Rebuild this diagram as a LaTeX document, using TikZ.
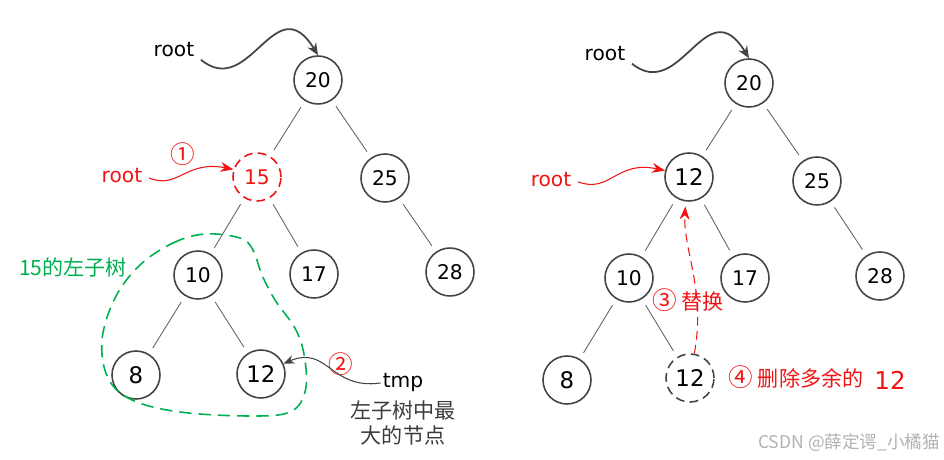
\documentclass[tikz,border=0pt]{standalone}
\usepackage{fontspec}
\setmainfont{DejaVu Sans}
\newfontfamily\cjk{Noto Sans CJK SC}
\usetikzlibrary{arrows.meta}
\definecolor{nodegray}{RGB}{68,68,68}
\definecolor{edgegray}{RGB}{100,100,100}
\definecolor{myred}{RGB}{240,20,20}
\definecolor{mygreen}{RGB}{0,176,80}
\definecolor{txtgray}{RGB}{60,60,60}

\begin{document}
\begin{tikzpicture}[
  x=0.02cm,y=-0.02cm,
  >=Stealth,
  nd/.style={circle,draw=nodegray,line width=0.9pt,minimum size=0.96cm,inner sep=0pt,font=\fontsize{11.5}{12}\selectfont},
  big/.style={font=\fontsize{13}{14}\selectfont},
  edge/.style={draw=edgegray,line width=0.5pt,shorten <=0.14cm,shorten >=0.14cm},
  lab/.style={font=\fontsize{11.5}{12}\selectfont,inner sep=1pt},
  zh/.style={font=\cjk\fontsize{12}{14}\selectfont,inner sep=1pt},
  num/.style={font=\cjk\fontsize{14}{14}\selectfont,inner sep=1pt,text=myred},
  ptr/.style={draw=nodegray,line width=1pt,shorten <=0.12cm,-{Stealth[length=0.24cm,width=0.2cm]}},
  redptr/.style={draw=myred,line width=0.6pt,shorten <=0.1cm,-{Stealth[length=0.26cm,width=0.2cm]}},
]
\useasboundingbox (0,0) rectangle (944,460);

% left tree
\node[nd] (L20) at (318,80) {20};
\node[nd,draw=myred,text=myred,dash pattern=on 5pt off 3pt] (L15) at (257,177) {15};
\node[nd] (L25) at (385,178) {25};
\node[nd] (L10) at (198,275) {10};
\node[nd] (L17) at (314,274) {17};
\node[nd] (L28) at (450,272) {28};
\node[nd,big] (L8) at (136,375) {8};
\node[nd,big] (L12) at (261,374) {12};
\draw[edge] (L20) -- (L15);
\draw[edge] (L20) -- (L25);
\draw[edge] (L15) -- (L10);
\draw[edge] (L15) -- (L17);
\draw[edge] (L25) -- (L28);
\draw[edge] (L10) -- (L8);
\draw[edge] (L10) -- (L12);

% left labels
\node[lab] (rootA) at (174,50) {root};
\draw[ptr] (rootA.-15) .. controls (250,100) and (275,-15) .. (L20.north);
\node[lab,text=myred] (rootB) at (122,176) {root};
\node[num] (c1) at (183,154) {①};
\draw[redptr] (rootB.east) .. controls (178,190) and (185,160) .. (L15.162);
\node[zh,text=mygreen] (sub) at (73,267) {15的左子树};
\draw[mygreen,line width=0.9pt,dash pattern=on 7pt off 4pt] plot[smooth cycle,tension=0.6] coordinates
  {(140,265) (173,243) (205,234) (240,238) (253,250) (262,275) (275,300) (296,330) (305,360)
   (305,392) (290,412) (250,416) (180,412) (132,400) (108,378) (102,340) (115,298)};
\node[lab] (tmp) at (403,383) {tmp};
\node[zh,text=txtgray,align=center] (tmpdesc) at (403,423) {左子树中最\\大的节点};
\node[num] (c2) at (341,364) {②};
\draw[draw=nodegray,line width=0.6pt,-{Stealth[length=0.22cm,width=0.18cm]}] (tmp.west) .. controls (330,390) and (328,345) .. (L12.25);

% right tree
\node[nd] (R20) at (749,83) {20};
\node[nd,big] (R12) at (689,177) {12};
\node[nd] (R25) at (817,181) {25};
\node[nd] (R10) at (629,278) {10};
\node[nd] (R17) at (745,278) {17};
\node[nd] (R28) at (880,276) {28};
\node[nd,big] (R8) at (567,380) {8};
\node[nd,big,dash pattern=on 5pt off 3pt] (R12b) at (690,378) {12};
\draw[edge] (R20) -- (R12);
\draw[edge] (R20) -- (R25);
\draw[edge] (R12) -- (R10);
\draw[edge] (R12) -- (R17);
\draw[edge] (R25) -- (R28);
\draw[edge] (R10) -- (R8);
\draw[edge] (R10) -- (R12b);

% right labels
\node[lab] (rootC) at (605,54) {root};
\draw[ptr] (rootC.-15) .. controls (681,103) and (706,-12) .. (R20.north);
\node[lab,text=myred] (rootD) at (551,180) {root};
\draw[redptr] (rootD.east) .. controls (610,194) and (616,160) .. (R12.165);
\draw[redptr,dash pattern=on 5pt off 3pt,shorten <=0pt,shorten >=0.1cm] (R12b.80) .. controls (706,290) and (683,250) .. (R12.-98);
\node[zh,text=myred] (swap) at (688,300) {\fontsize{14}{14}\selectfont③\fontsize{12}{14}\selectfont\ 替换};
\node[zh,text=myred] (del) at (796,377) {\fontsize{14}{14}\selectfont④\fontsize{12}{14}\selectfont\ 删除多余的};
\node[lab,font=\fontsize{14}{14}\selectfont,text=myred] (delnum) at (890,380) {12};
\node[font=\cjk\fontsize{10}{12}\selectfont,text=black!30] (mark) at (849,443) {CSDN @薛定谔\_小橘猫};
\end{tikzpicture}
\end{document}
